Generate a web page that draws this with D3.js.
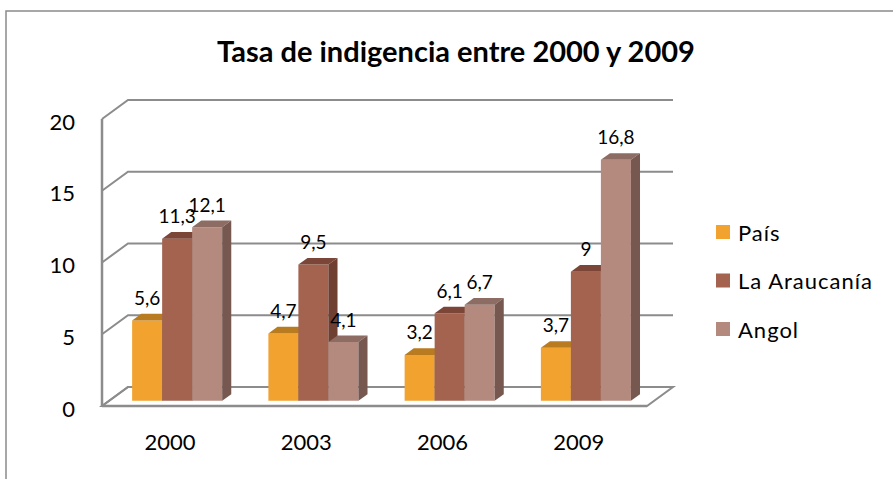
<!DOCTYPE html>
<html>
<head>
<meta charset="utf-8">
<script src="https://cdn.jsdelivr.net/npm/d3@7"></script>
<style>
  body { margin: 0; background: #fff; }
  svg text { font-family: Lato, "Open Sans", sans-serif; fill: #000; }
</style>
</head>
<body>
<svg id="chart"></svg>
<script>
// data
var years = ["2000", "2003", "2006", "2009"];
var series = ["País", "La Araucanía", "Angol"];
var pais = [5.6, 4.7, 3.2, 3.7];
var araucania = [11.3, 9.5, 6.1, 9];
var angol = [12.1, 4.1, 6.7, 16.8];
var yTicks = [0, 5, 10, 15, 20];
var title = "Tasa de indigencia entre 2000 y 2009";

var values = [pais, araucania, angol];
var front = ["#f2a22f", "#a4634e", "#b58a7e"];
var topC  = ["#b97b20", "#7b4637", "#8c6c63"];
var side  = ["#a36e1c", "#6f3f31", "#775850"];

var width = 893, height = 479;
var svg = d3.select("#chart").attr("width", width).attr("height", height);

// 3d depth offset of the walls
var DX = 26, DY = -19;
function pr(x, y, d) { return [x + d * DX, y + d * DY]; }

var x = d3.scaleBand().domain(years).range([102, 647]).paddingInner(0).paddingOuter(0);
var xs = d3.scaleBand().domain(series).range([0, x.bandwidth()]).paddingInner(0).paddingOuter(0.77);
var y = d3.scaleLinear().domain([0, 20]).range([406, 119]);

var grid = "#8c8c8c";

// chart area border
svg.append("rect").attr("x", 6).attr("y", 11).attr("width", 1000).attr("height", 600)
  .attr("fill", "none").attr("stroke", "#8a8a8a").attr("stroke-width", 1.5);

svg.append("text").attr("x", 456).attr("y", 62).attr("text-anchor", "middle")
  .style("font-size", "29px").style("font-weight", "bold").text(title);

var line = d3.line();

// floor
var x0 = x.range()[0], x1 = x.range()[1];
svg.append("path")
  .attr("d", line([[x0, y(0)], [x1, y(0)], pr(x1, y(0), 1), pr(x0, y(0), 1)]) + "Z")
  .attr("fill", "#fff").attr("stroke", grid).attr("stroke-width", 2);

// back wall gridlines + left wall diagonals
yTicks.forEach(function (t) {
  svg.append("path").attr("d", line([[x0, y(t)], pr(x0, y(t), 1), pr(x1, y(t), 1)]))
    .attr("fill", "none").attr("stroke", grid).attr("stroke-width", 2);
});
svg.append("path").attr("d", line([[x0, y(0)], [x0, y(20)]]))
  .attr("stroke", grid).attr("stroke-width", 2.5);
svg.append("path").attr("d", line([[x0, y(0)], [x1, y(0)]]))
  .attr("stroke", grid).attr("stroke-width", 2.5);

// y tick labels
svg.append("g").selectAll("text").data(yTicks).join("text")
  .attr("x", 75).attr("y", function (d) { return y(d) + 2; })
  .attr("text-anchor", "end").attr("dominant-baseline", "central")
  .style("font-size", "22px").text(function (d) { return d; });

// category labels
svg.append("g").selectAll("text").data(years).join("text")
  .attr("x", function (d) { return x(d) + x.bandwidth() / 2; }).attr("y", 441)
  .attr("text-anchor", "middle").attr("dominant-baseline", "central")
  .style("font-size", "22px").text(function (d) { return d; });

// bars, left to right so the next front face hides the previous side
var f0 = 0.27, f1 = 0.62;
var bars = svg.append("g");
var labels = [];
years.forEach(function (yr, i) {
  series.forEach(function (s, j) {
    var v = values[j][i];
    var xl = x(yr) + xs(s), xr = xl + xs.bandwidth();
    var a = pr(xl, y(0), f0), b = pr(xr, y(0), f0);
    var c = pr(xr, y(v), f0), e = pr(xl, y(v), f0);
    var cb = pr(xr, y(v), f1), eb = pr(xl, y(v), f1), bb = pr(xr, y(0), f1);
    bars.append("path").attr("d", line([a, b, c, e]) + "Z").attr("fill", front[j]);
    bars.append("path").attr("d", line([e, c, cb, eb]) + "Z").attr("fill", topC[j]);
    bars.append("path").attr("d", line([b, bb, cb, c]) + "Z").attr("fill", side[j]);
    labels.push({ x: (a[0] + b[0]) / 2, y: e[1] - 23, t: String(v).replace(".", ",") });
  });
});

svg.append("g").selectAll("text").data(labels).join("text")
  .attr("x", function (d) { return d.x; }).attr("y", function (d) { return d.y; })
  .attr("text-anchor", "middle").attr("dominant-baseline", "central")
  .style("font-size", "19px").text(function (d) { return d.t; });

// legend
var leg = svg.append("g").selectAll("g").data(series).join("g")
  .attr("transform", function (d, i) { return "translate(716," + (232 + i * 48.5) + ")"; });
leg.append("rect").attr("x", 0).attr("y", -7).attr("width", 14).attr("height", 14)
  .attr("fill", function (d, i) { return front[i]; });
leg.append("text").attr("x", 22).attr("y", 0).attr("dominant-baseline", "central")
  .style("font-size", "22px").style("letter-spacing", "1px").text(function (d) { return d; });
</script>
</body>
</html>
